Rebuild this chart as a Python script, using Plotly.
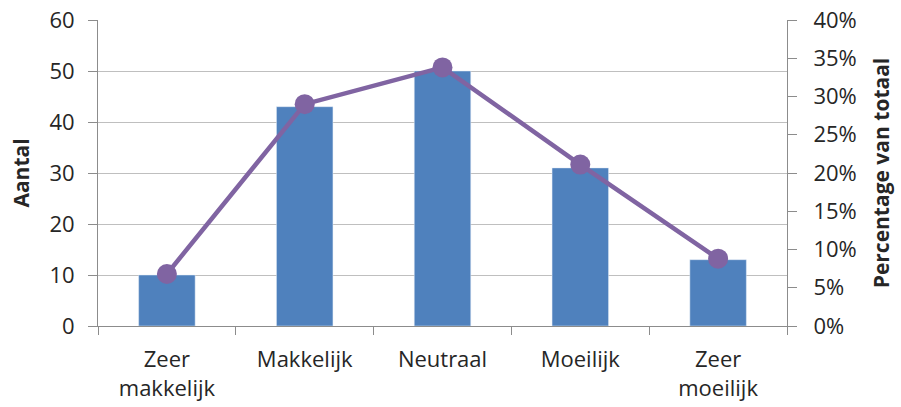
import plotly.graph_objects as go

BLUE = "#4F81BD"
PURPLE = "#8064A2"
GRID = "#BFBFBF"
AXIS = "#8C8C8C"
TEXT = "#262626"
FONT = "'Open Sans', Lato, sans-serif"

categories = ["Zeer<br>makkelijk", "Makkelijk", "Neutraal", "Moeilijk", "Zeer<br>moeilijk"]
aantal = [10, 43, 50, 31, 13]
percentage = [0.068, 0.290, 0.338, 0.211, 0.088]

fig = go.Figure()
fig.add_trace(go.Bar(x=categories, y=aantal, marker_color=BLUE, width=0.41,
                     name="Aantal"))
fig.add_trace(go.Scatter(x=categories, y=percentage, yaxis="y2", mode="lines+markers",
                         line=dict(color=PURPLE, width=4.5),
                         marker=dict(color=PURPLE, size=20),
                         name="Percentage van totaal"))

fig.update_layout(
    width=901, height=407,
    margin=dict(l=98, r=114, t=20, b=81),
    plot_bgcolor="white", paper_bgcolor="white",
    showlegend=False,
    font=dict(family=FONT, size=22, color=TEXT),
    xaxis=dict(showline=True, linecolor=AXIS, linewidth=1, ticks="outside",
               tickson="boundaries", ticklen=8, tickcolor=AXIS,
               automargin=False, tickfont=dict(size=22), ticklabelstandoff=14),
    yaxis=dict(range=[0, 60], dtick=10, showgrid=True, gridcolor=GRID,
               showline=True, linecolor=AXIS, ticks="outside", ticklen=9,
               tickcolor=AXIS, zeroline=False, automargin=False,
               ticklabelstandoff=9, ticklabeloverflow="allow",
               title=dict(text="<b>Aantal</b>", standoff=14, font=dict(size=21))),
    yaxis2=dict(range=[0, 0.40], dtick=0.05, tickformat=".0%", overlaying="y",
                side="right", showgrid=False, showline=True, linecolor=AXIS,
                ticks="outside", ticklen=9, tickcolor=AXIS, zeroline=False,
                automargin=False, ticklabelstandoff=12, ticklabeloverflow="allow",
                title=dict(text="<b>Percentage van totaal</b>", standoff=18,
                           font=dict(size=21))),
)

# drop the default page margin so the figure fills the window
fig.write_html("out.html", config={"displayModeBar": False},
               post_script="document.body.style.margin = '0';")
